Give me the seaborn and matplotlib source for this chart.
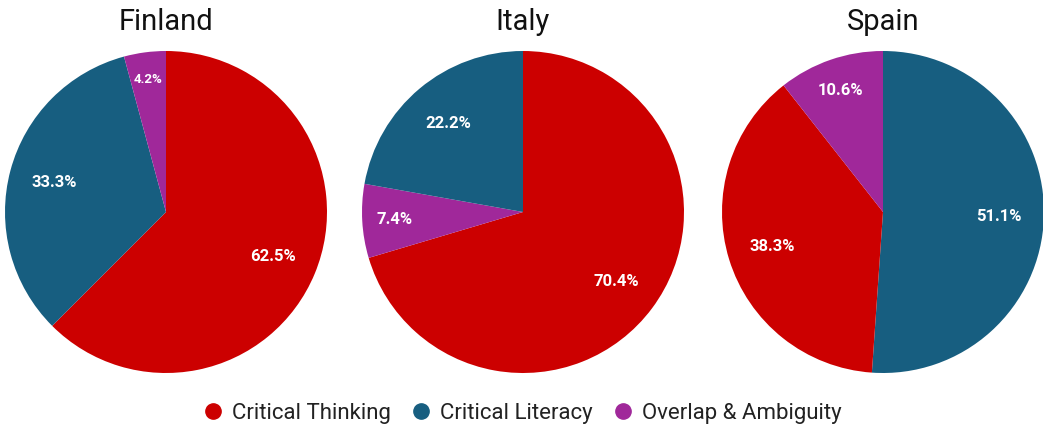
import matplotlib
matplotlib.use("Agg")
import matplotlib.pyplot as plt
from matplotlib.lines import Line2D
import numpy as np
import seaborn as sns

# Shares of coded segments per country, listed clockwise from 12 o'clock
countries = ["Finland", "Italy", "Spain"]
finland_labels = ["Critical Thinking", "Critical Literacy", "Overlap & Ambiguity"]
finland_values = [62.5, 33.3, 4.2]
italy_labels = ["Critical Thinking", "Overlap & Ambiguity", "Critical Literacy"]
italy_values = [70.4, 7.4, 22.2]
spain_labels = ["Critical Literacy", "Critical Thinking", "Overlap & Ambiguity"]
spain_values = [51.1, 38.3, 10.6]
legend_order = ["Critical Thinking", "Critical Literacy", "Overlap & Ambiguity"]

sns.set_theme(style="white")
plt.rcParams["font.family"] = ["Roboto", "DejaVu Sans"]

palette = dict(zip(legend_order, sns.color_palette(["#cc0000", "#175e80", "#a0289a"])))

W, H = 1043, 428
fig = plt.figure(figsize=(W / 100, H / 100), dpi=100)
fig.patch.set_facecolor("white")

# pie centres in pixels (x, y from top) and radius
centres = [(166, 212), (523, 212), (883, 212)]
radius = 161

series = [(finland_labels, finland_values), (italy_labels, italy_values), (spain_labels, spain_values)]

for name, (cx, cy), (labels, values) in zip(countries, centres, series):
    ax = fig.add_axes([(cx - radius) / W, (H - cy - radius) / H, 2 * radius / W, 2 * radius / H])
    total = sum(values)
    wedges, _ = ax.pie(
        values,
        colors=[palette[l] for l in labels],
        startangle=90,
        counterclock=False,
        radius=1.0,
        wedgeprops=dict(linewidth=0),
    )
    for w, v in zip(wedges, values):
        frac = v / total
        mid = np.deg2rad((w.theta1 + w.theta2) / 2)
        dist = 0.83 if frac < 0.05 else (0.8 if frac < 0.12 else 0.72)
        ax.text(dist * np.cos(mid), dist * np.sin(mid), f"{v:.1f}%",
                ha="center", va="center", color="white",
                fontsize=12 if frac >= 0.05 else 9.5, fontweight="bold")
    ax.set_xlim(-1, 1)
    ax.set_ylim(-1, 1)
    ax.set_aspect("equal")
    ax.axis("off")
    fig.text(cx / W, (H - 22) / H, name, ha="center", va="center", fontsize=21, color="#111111")

handles = [Line2D([0], [0], marker="o", linestyle="none", markersize=11,
                  markerfacecolor=palette[l], markeredgecolor=palette[l]) for l in legend_order]
fig.legend(handles, legend_order, loc="center", bbox_to_anchor=(0.5, (H - 413) / H),
           ncol=3, frameon=False, fontsize=16, handlelength=1.0, handletextpad=0.36,
           columnspacing=0.85, labelcolor="#222222")

fig.savefig("out.png", dpi=100, facecolor="white")
